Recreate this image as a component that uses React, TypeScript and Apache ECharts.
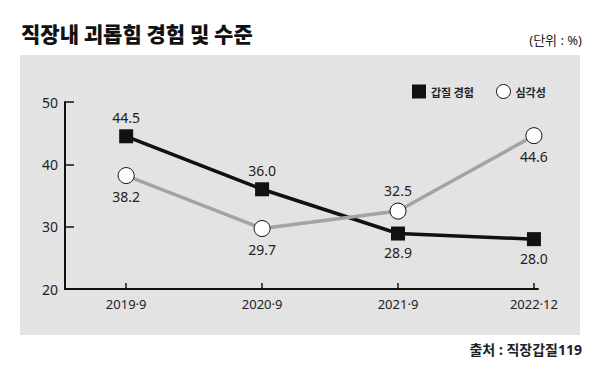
import React, { useEffect, useRef } from "react";
import * as echarts from "echarts";

const categories = ["2019·9", "2020·9", "2021·9", "2022·12"];
const gapjilValues = [44.5, 36.0, 28.9, 28.0];
const severityValues = [38.2, 29.7, 32.5, 44.6];
const severityLabelPos = ["bottom", "bottom", "top", "bottom"];
const gapjilLabelPos = ["top", "top", "bottom", "bottom"];
const yTicks = [20, 30, 40, 50];

const FONT = "'Noto Sans CJK KR', 'Noto Sans', sans-serif";
const NUM_FONT = "'Noto Sans', 'Noto Sans CJK KR', sans-serif";

export default function App() {
  const ref = useRef<HTMLDivElement>(null);
  useEffect(() => {
    document.body.style.margin = "0";
    const chart = echarts.init(ref.current!, null, { renderer: "svg" });
    const idx = categories.map((_, i) => i);
    const mk = (vals: number[], pos: string[]) =>
      vals.map((v, i) => ({
        value: [i, v],
        label: { position: pos[i] },
      }));
    chart.setOption({
      animation: false,
      textStyle: { fontFamily: FONT },
      title: {
        text: "직장내 괴롭힘 경험 및 수준",
        left: 16,
        top: 17,
        textStyle: { fontSize: 21, fontWeight: 900, color: "#111", fontFamily: FONT },
      },
      graphic: [
        {
          type: "rect",
          left: 20,
          top: 55,
          shape: { width: 560, height: 280 },
          style: { fill: "#e3e3e3" },
          z: -10,
          silent: true,
        },
        {
          type: "text",
          right: 18,
          top: 33,
          style: { text: "(단위 : %)", fontSize: 13, fill: "#222", fontFamily: NUM_FONT },
        },
        {
          type: "text",
          right: 18,
          top: 342,
          style: { text: "출처 : 직장갑질119", fontSize: 14, fontWeight: "bold", fill: "#222", fontFamily: NUM_FONT },
        },
      ],
      legend: {
        left: 407,
        top: 79,
        itemWidth: 14,
        itemHeight: 14,
        itemGap: 22,
        textStyle: { fontSize: 11, fontWeight: "bold", color: "#222", fontFamily: FONT },
        data: [
          { name: "갑질 경험", icon: "rect", itemStyle: { color: "#111" } },
          {
            name: "심각성",
            icon: "circle",
            itemStyle: { color: "#fff", borderColor: "#111", borderWidth: 1 },
          },
        ],
      },
      grid: { left: 65, right: 62, top: 102, bottom: 91 },
      xAxis: {
        type: "value",
        min: -0.45,
        max: 3.03,
        splitLine: { show: false },
        axisLine: { show: true, onZero: false, lineStyle: { color: "#111", width: 2 } },
        axisTick: {
          show: true,
          inside: true,
          length: 6,
          customValues: idx,
          lineStyle: { color: "#111", width: 1.5 },
        },
        axisLabel: {
          customValues: idx,
          formatter: (v: number) => categories[Math.round(v)] ?? "",
          fontSize: 13,
          color: "#222",
          margin: 8,
          fontFamily: NUM_FONT,
        },
      },
      yAxis: {
        type: "value",
        min: 20,
        max: 50,
        interval: 10,
        splitLine: { show: false },
        axisLine: { show: true, onZero: false, lineStyle: { color: "#111", width: 2 } },
        axisTick: {
          show: true,
          inside: true,
          length: 9,
          customValues: yTicks,
          lineStyle: { color: "#111", width: 1.5 },
        },
        axisLabel: {
          customValues: yTicks,
          fontSize: 14,
          color: "#222",
          margin: 7,
          fontFamily: NUM_FONT,
        },
      },
      series: [
        {
          name: "갑질 경험",
          type: "line",
          data: mk(gapjilValues, gapjilLabelPos),
          symbol: "rect",
          symbolSize: 14,
          lineStyle: { color: "#111", width: 3.5 },
          itemStyle: { color: "#111" },
          label: {
            show: true,
            distance: 5,
            fontSize: 14,
            color: "#222",
            fontFamily: NUM_FONT,
            formatter: (p: any) => p.value[1].toFixed(1),
          },
          z: 2,
        },
        {
          name: "심각성",
          type: "line",
          data: mk(severityValues, severityLabelPos),
          symbol: "circle",
          symbolSize: 16,
          lineStyle: { color: "#a3a3a3", width: 3.5 },
          itemStyle: { color: "#fff", borderColor: "#111", borderWidth: 1 },
          label: {
            show: true,
            distance: 5,
            fontSize: 14,
            color: "#222",
            fontFamily: NUM_FONT,
            formatter: (p: any) => p.value[1].toFixed(1),
          },
          z: 3,
        },
      ],
    });
    return () => chart.dispose();
  }, []);
  return <div ref={ref} style={{ width: 600, height: 380 }} />;
}
